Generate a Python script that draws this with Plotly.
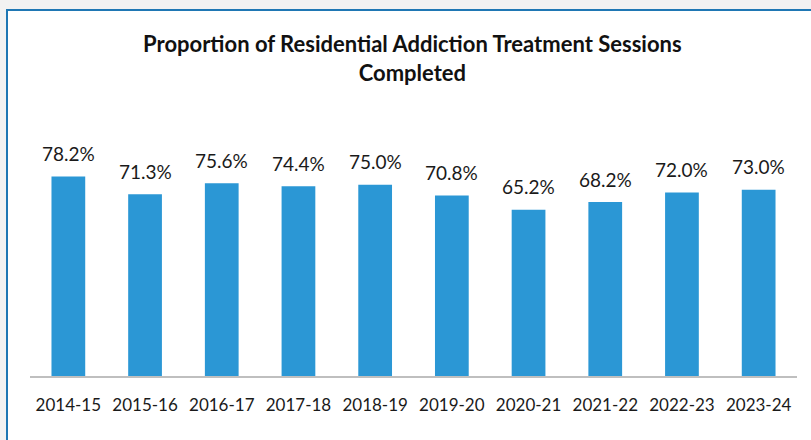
import plotly.graph_objects as go

categories = ["2014-15", "2015-16", "2016-17", "2017-18", "2018-19",
              "2019-20", "2020-21", "2021-22", "2022-23", "2023-24"]
values = [78.2, 71.3, 75.6, 74.4, 75.0, 70.8, 65.2, 68.2, 72.0, 73.0]
labels = [f"{v:.1f}%" for v in values]

FONT = "Lato"
fig = go.Figure(go.Bar(
    x=categories, y=values,
    marker=dict(color="#2b97d5", line=dict(width=0)),
    hoverinfo="skip",
))

for c, v, t in zip(categories, values, labels):
    fig.add_annotation(x=c, y=v, text=t, showarrow=False, yanchor="middle",
                       yshift=23, font=dict(family=FONT, size=19, color="#1a1a1a"))

L, R, T, B = 30, 14, 121, 64
W, H = 811, 440
pw, ph = W - L - R, H - T - B

def px(x):
    return (x - L) / pw

def py(y):
    return (H - B - y) / ph

fig.add_shape(type="rect", xref="paper", yref="paper",
              x0=px(7), x1=px(830), y0=py(460), y1=py(10),
              fillcolor="white", line=dict(color="#1f77b4", width=2), layer="below")

fig.update_layout(
    width=W, height=H,
    margin=dict(l=L, r=R, t=T, b=B, pad=0),
    paper_bgcolor="#f2f2f2", plot_bgcolor="rgba(0,0,0,0)",
    bargap=0.56, showlegend=False,
    title=dict(text="<b>Proportion of Residential Addiction Treatment Sessions<br>Completed</b>",
               x=px(420), xanchor="center", y=1 - 52 / H, yanchor="middle",
               font=dict(family=FONT, size=22, color="#111111")),
    xaxis=dict(showline=True, linecolor="#bfbfbf", linewidth=2, ticks="",
               ticklabelstandoff=13,
               tickfont=dict(family=FONT, size=17, color="#1a1a1a"), showgrid=False),
    yaxis=dict(range=[0, 100], visible=False, showgrid=False, zeroline=False),
    font=dict(family=FONT),
)

fig.write_html("out.html", config={"displayModeBar": False},
               post_script="document.body.style.margin='0';document.body.style.overflow='hidden';")
